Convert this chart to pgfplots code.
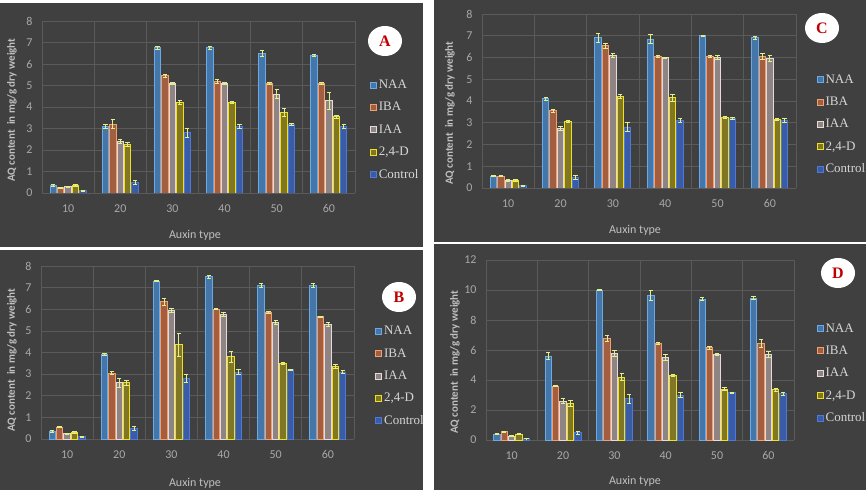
\documentclass[border=0pt]{standalone}
\usepackage{pgfplots}
\pgfplotsset{compat=1.18}
\usepackage{pgfplotstable}
\usepackage{fontspec}
\setmainfont{Carlito}
\newfontfamily\serif{Liberation Serif}

\definecolor{bg}{HTML}{404040}
\definecolor{gridc}{HTML}{5A5A5A}
\definecolor{tickc}{HTML}{A8A8A8}
\definecolor{labc}{HTML}{C0C0C0}
\definecolor{legc}{HTML}{D6D6D6}
\definecolor{errc}{HTML}{E2F08A}
\definecolor{naaD}{HTML}{6AAAE6}
\definecolor{naaF}{HTML}{4576AA}
\definecolor{ibaD}{HTML}{F0A070}
\definecolor{ibaF}{HTML}{A25E3E}
\definecolor{iaaD}{HTML}{E6DADA}
\definecolor{iaaF}{HTML}{8E8484}
\definecolor{dD}{HTML}{F0E020}
\definecolor{dF}{HTML}{807624}
\definecolor{ctlD}{HTML}{4C7AD6}
\definecolor{ctlF}{HTML}{3A5CA6}
\definecolor{letc}{HTML}{C00000}

% Panel A
\pgfplotstableread{
x naa naaE iba ibaE iaa iaaE d dE ctl ctlE
0 0.35 0.03 0.25 0.03 0.30 0.03 0.35 0.04 0.10 0.02
1 3.10 0.08 3.20 0.20 2.40 0.08 2.25 0.10 0.50 0.10
2 6.75 0.08 5.45 0.08 5.10 0.04 4.20 0.10 2.80 0.20
3 6.75 0.08 5.20 0.08 5.10 0.04 4.20 0.04 3.10 0.10
4 6.50 0.15 5.10 0.03 4.60 0.20 3.75 0.20 3.20 0.04
5 6.40 0.05 5.10 0.05 4.30 0.40 3.55 0.06 3.10 0.08
}\tA
% Panel C
\pgfplotstableread{
x naa naaE iba ibaE iaa iaaE d dE ctl ctlE
0 0.55 0.03 0.55 0.03 0.35 0.03 0.35 0.04 0.10 0.02
1 4.10 0.06 3.55 0.06 2.75 0.10 3.05 0.04 0.50 0.10
2 6.90 0.20 6.55 0.12 6.10 0.08 4.20 0.10 2.80 0.20
3 6.85 0.20 6.05 0.06 6.00 0.02 4.15 0.15 3.10 0.08
4 7.00 0.03 6.05 0.05 6.00 0.10 3.25 0.03 3.20 0.04
5 6.90 0.05 6.05 0.15 5.95 0.15 3.15 0.04 3.10 0.10
}\tC
% Panel B
\pgfplotstableread{
x naa naaE iba ibaE iaa iaaE d dE ctl ctlE
0 0.35 0.03 0.55 0.03 0.25 0.03 0.30 0.04 0.10 0.02
1 3.90 0.04 3.05 0.08 2.60 0.20 2.60 0.10 0.50 0.10
2 7.30 0.03 6.35 0.15 5.95 0.08 4.35 0.55 2.80 0.20
3 7.50 0.08 6.00 0.02 5.75 0.10 3.80 0.25 3.10 0.10
4 7.10 0.10 5.85 0.06 5.40 0.08 3.50 0.03 3.20 0.04
5 7.10 0.08 5.65 0.04 5.30 0.08 3.35 0.10 3.10 0.08
}\tB
% Panel D
\pgfplotstableread{
x naa naaE iba ibaE iaa iaaE d dE ctl ctlE
0 0.40 0.03 0.55 0.04 0.25 0.03 0.40 0.05 0.10 0.02
1 5.60 0.25 3.60 0.05 2.60 0.15 2.45 0.20 0.50 0.10
2 10.00 0.05 6.75 0.20 5.80 0.20 4.20 0.25 2.75 0.30
3 9.65 0.35 6.45 0.08 5.50 0.20 4.30 0.05 3.00 0.15
4 9.40 0.10 6.15 0.10 5.70 0.05 3.40 0.08 3.15 0.04
5 9.45 0.10 6.45 0.25 5.70 0.20 3.35 0.10 3.10 0.10
}\tD

\pgfplotsset{
  legsq/.style={legend image code/.code={\draw[##1, line width=0.8pt] (0pt,-3pt) rectangle (6pt,3pt);}},
  naa/.style={draw=naaD, fill=naaF, line width=0.9pt, legsq},
  iba/.style={draw=ibaD, fill=ibaF, line width=0.9pt, legsq},
  iaa/.style={draw=iaaD, fill=iaaF, line width=0.9pt, legsq},
  dd/.style={draw=dD, fill=dF, line width=0.9pt, legsq},
  ctl/.style={draw=ctlD, fill=ctlF, line width=0.9pt, legsq},
  panel/.style={
    scale only axis, ybar=1pt, bar width=6.4pt, ymin=0,
    xmin=-0.5, xmax=5.5, xtick={0,...,5}, xticklabels={10,20,30,40,50,60},
    minor xtick={-0.5,0.5,...,5.5},
    ymajorgrids, xminorgrids,
    major grid style={draw=gridc, line width=0.7pt},
    minor grid style={draw=gridc, line width=0.7pt},
    axis line style={draw=none}, major tick style={draw=none}, minor tick style={draw=none},
    ticklabel style={text=tickc, font=\fontsize{12}{12}\selectfont},
    /pgf/number format/assume math mode=true,
    xticklabel style={yshift=-4pt}, yticklabel style={xshift=-6pt},
    legend style={draw=none, fill=none, text=legc, font=\serif\fontsize{13}{13}\selectfont,
      anchor=north west, row sep=8.6pt, column sep=0pt, inner sep=0pt,
      nodes={inner sep=1.8pt}, cells={anchor=west}},
    error bars/y dir=both, error bars/y explicit,
    error bars/error bar style={draw=errc, line width=0.8pt},
    error bars/error mark options={draw=errc, rotate=90, mark size=2.2pt, line width=0.8pt},
  },
}

\newcommand\panel[7]{%
  \begin{axis}[panel, at={(#2)}, anchor=south west, width=#3, height=#4, ymax=#5, ytick={#6},
      legend style={at={(#7)}}]
    \addplot[naa] table[x=x, y=naa, y error=naaE]{#1};
    \addplot[iba] table[x=x, y=iba, y error=ibaE]{#1};
    \addplot[iaa] table[x=x, y=iaa, y error=iaaE]{#1};
    \addplot[dd]  table[x=x, y=d,   y error=dE]{#1};
    \addplot[ctl] table[x=x, y=ctl, y error=ctlE]{#1};
    \legend{NAA,IBA,IAA,{2,4-D},Control}
  \end{axis}}

\begin{document}
\begin{tikzpicture}[x=1pt,y=1pt]
  \fill[white] (0,0) rectangle (866,490);
  \useasboundingbox (0,0) rectangle (866,490);
  \fill[bg] (0,243) rectangle (423,487);
  \fill[bg] (434,248) rectangle (866,490);
  \fill[bg] (0,0) rectangle (423,240);
  \fill[bg] (434,0) rectangle (866,246);

  \panel{\tA}{42pt,297pt}{313pt}{172pt}{8}{0,1,...,8}{1.048,0.668}
  \panel{\tC}{482pt,302pt}{314pt}{174pt}{8}{0,1,...,8}{1.066,0.663}
  \panel{\tB}{41pt,51pt}{313pt}{173pt}{8}{0,1,...,8}{1.068,0.663}
  \panel{\tD}{486pt,50pt}{308pt}{180pt}{12}{0,2,...,12}{1.074,0.658}

  \begin{scope}[every node/.style={text=labc}]
    \node[rotate=90, font=\bfseries\fontsize{11}{11}\selectfont] at (12,380) {AQ content\ \ in mg/g dry weight};
    \node[rotate=90, font=\bfseries\fontsize{11}{11}\selectfont] at (450,377) {AQ content\ \ in mg/g dry weight};
    \node[rotate=90, font=\bfseries\fontsize{11}{11}\selectfont] at (12,130) {AQ content\ \ in mg/g dry weight};
    \node[rotate=90, font=\bfseries\fontsize{11}{11}\selectfont] at (455,128) {AQ content\ \ in mg/g dry weight};
    \node[font=\fontsize{12}{12}\selectfont] at (195,255) {Auxin type};
    \node[font=\fontsize{12}{12}\selectfont] at (635,260) {Auxin type};
    \node[font=\fontsize{12}{12}\selectfont] at (195,7) {Auxin type};
    \node[font=\fontsize{12}{12}\selectfont] at (635,9) {Auxin type};
  \end{scope}

  \foreach \cx/\cy/\lt in {385/449/A, 822/462/C, 399/193/B, 838/217/D}{
    \fill[white] (\cx,\cy) ellipse (17 and 15);
    \node[text=letc, font=\serif\bfseries\fontsize{16}{16}\selectfont] at (\cx,\cy) {\lt};
  }
\end{tikzpicture}
\end{document}
